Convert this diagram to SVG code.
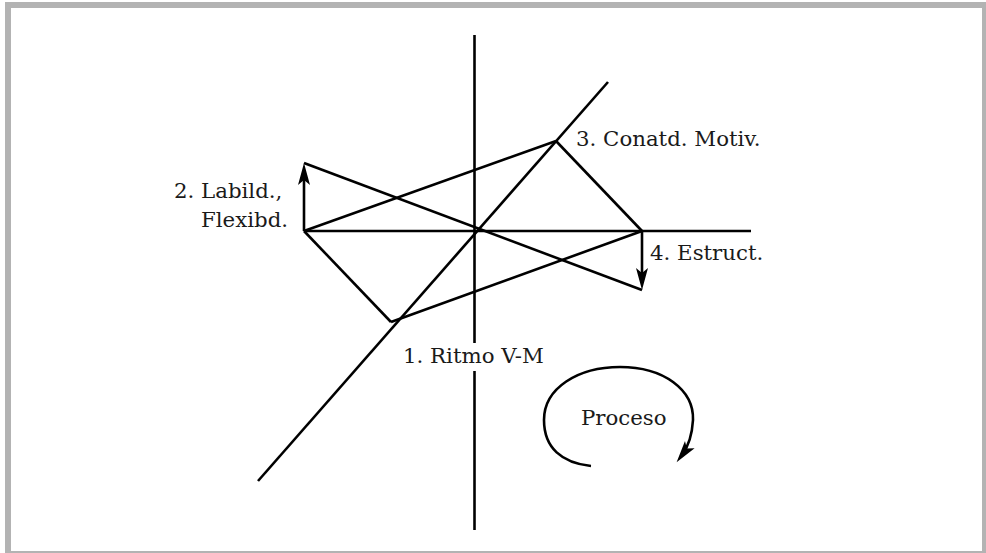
<svg xmlns="http://www.w3.org/2000/svg" width="986" height="553" viewBox="0 0 986 553">
<style>
.ln{stroke:#000;stroke-width:2.6;fill:none;stroke-linecap:butt;stroke-linejoin:miter}
.lb{font-family:"DejaVu Serif","Liberation Serif",serif;font-size:21.3px;fill:#1a1a1a}
</style>
<defs>
<marker id="ah" markerUnits="userSpaceOnUse" markerWidth="24" markerHeight="16" viewBox="0 0 24 16" refX="14" refY="8" orient="auto">
<path d="M1,2 L23,8 L1,14 L6,8 Z" fill="#000"/>
</marker>
</defs>
<rect x="8" y="5" width="977" height="549" fill="#fff" stroke="#b3b3b3" stroke-width="6"/>
<g id="connectors">
<line class="ln" x1="474.5" y1="35" x2="474.5" y2="343"/>
<line class="ln" x1="474.5" y1="371" x2="474.5" y2="530"/>
<line class="ln" x1="304" y1="231" x2="751" y2="231"/>
<line class="ln" x1="258" y1="481" x2="608" y2="82"/>
<line class="ln" x1="304" y1="231" x2="304" y2="172" marker-end="url(#ah)"/>
<line class="ln" x1="304" y1="163" x2="642" y2="290"/>
<line class="ln" x1="304" y1="231" x2="556" y2="141"/>
<line class="ln" x1="556" y1="141" x2="642" y2="231"/>
<line class="ln" x1="642" y1="231" x2="642" y2="281" marker-end="url(#ah)"/>
<line class="ln" x1="642" y1="231" x2="391" y2="322"/>
<line class="ln" x1="304" y1="231" x2="391" y2="322"/>
<path class="ln" d="M591,466 C562,463 544,448 544,420 C544,388 578,367 620,367 C664,367 694,390 693,420 C692,437 688,447 682,455" marker-end="url(#ah)"/>
</g>
<g id="node-2">
<text class="lb" x="174" y="198">2. Labild.,</text>
<text class="lb" x="201" y="227">Flexibd.</text>
</g>
<g id="node-3"><text class="lb" x="576" y="146">3. Conatd. Motiv.</text></g>
<g id="node-4"><text class="lb" x="650" y="260">4. Estruct.</text></g>
<g id="node-1"><text class="lb" x="403" y="363">1. Ritmo V-M</text></g>
<g id="proceso"><text class="lb" x="581" y="425">Proceso</text></g>
</svg>
